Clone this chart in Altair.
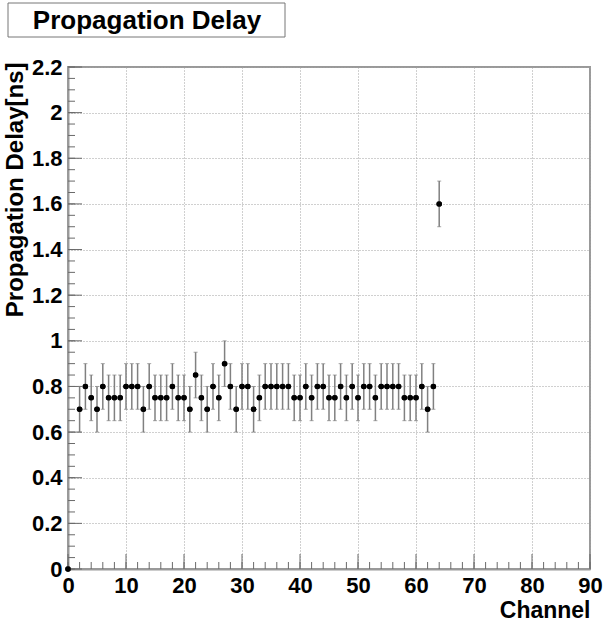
import altair as alt
import pandas as pd

# ---- data ----
channels = [0] + list(range(2, 65))
delays = [0.0,
          0.7, 0.8, 0.75, 0.7, 0.8, 0.75, 0.75, 0.75, 0.8, 0.8,
          0.8, 0.7, 0.8, 0.75, 0.75, 0.75, 0.8, 0.75, 0.75, 0.7,
          0.85, 0.75, 0.7, 0.8, 0.75, 0.9, 0.8, 0.7, 0.8, 0.8,
          0.7, 0.75, 0.8, 0.8, 0.8, 0.8, 0.8, 0.75, 0.75, 0.8,
          0.75, 0.8, 0.8, 0.75, 0.75, 0.8, 0.75, 0.8, 0.75, 0.8,
          0.8, 0.75, 0.8, 0.8, 0.8, 0.8, 0.75, 0.75, 0.75, 0.8,
          0.7, 0.8, 1.6]
errors = [0.0] + [0.1] * 63

x_major = [0, 10, 20, 30, 40, 50, 60, 70, 80, 90]
x_minor = [0, 2, 4, 6, 8, 10, 12, 14, 16, 18, 20, 22, 24, 26, 28, 30, 32, 34, 36, 38,
           40, 42, 44, 46, 48, 50, 52, 54, 56, 58, 60, 62, 64, 66, 68, 70, 72, 74, 76,
           78, 80, 82, 84, 86, 88, 90]
y_major = [0, 0.2, 0.4, 0.6, 0.8, 1, 1.2, 1.4, 1.6, 1.8, 2, 2.2]
y_minor = [0, 0.05, 0.1, 0.15, 0.2, 0.25, 0.3, 0.35, 0.4, 0.45, 0.5, 0.55, 0.6, 0.65,
           0.7, 0.75, 0.8, 0.85, 0.9, 0.95, 1, 1.05, 1.1, 1.15, 1.2, 1.25, 1.3, 1.35,
           1.4, 1.45, 1.5, 1.55, 1.6, 1.65, 1.7, 1.75, 1.8, 1.85, 1.9, 1.95, 2, 2.05,
           2.1, 2.15, 2.2]

title_text = "Propagation Delay"

df = pd.DataFrame({"ch": channels, "d": delays, "e": errors})
df["lo"] = df["d"] - df["e"]
df["hi"] = df["d"] + df["e"]
dfe = df[df["e"] > 0]

W, H = 522, 502
FONT = "Liberation Sans"

xs = alt.Scale(domain=[0, 90], nice=False, zero=False)
ys = alt.Scale(domain=[0, 2.2], nice=False, zero=False)

x_axis = alt.Axis(values=x_major, grid=True, gridColor="#a0a0a0", gridDash=[1, 2],
                  gridWidth=1, tickSize=0, domainColor="#999999", domainWidth=2,
                  labelFont=FONT, labelFontWeight="bold", labelFontSize=22,
                  labelColor="black", labelPadding=6, labelFlush=False,
                  title="Channel", titleFont=FONT, titleFontWeight="bold",
                  titleFontSize=23, titleColor="black", titleAnchor="end",
                  titleAlign="right", titleX=W, titleY=48, titleBaseline="alphabetic")
y_axis = alt.Axis(values=y_major, format="~g", grid=True, gridColor="#a0a0a0",
                  gridDash=[1, 2], gridWidth=1, tickSize=0, domainColor="#999999",
                  domainWidth=2, labelFont=FONT, labelFontWeight="bold",
                  labelFontSize=22, labelColor="black", labelPadding=6,
                  labelFlush=False,
                  title="Propagation Delay[ns]", titleFont=FONT,
                  titleFontWeight="bold", titleFontSize=24, titleColor="black",
                  titleAngle=270, titleAlign="right", titleBaseline="alphabetic",
                  titleX=-46, titleY=-5)


def X(f):
    return alt.X(f, scale=xs, axis=x_axis)


def Y(f):
    return alt.Y(f, scale=ys, axis=y_axis)


points = alt.Chart(df).mark_point(filled=True, shape="circle", size=30,
                                  color="black", opacity=1).encode(
    x=X("ch:Q"), y=Y("d:Q"))

bars = alt.Chart(dfe).mark_rule(color="#808080", strokeWidth=1.5).encode(
    x=X("ch:Q"), y=Y("lo:Q"), y2="hi:Q")
cap_lo = alt.Chart(dfe).mark_tick(color="#808080", orient="horizontal",
                                  size=4, thickness=1).encode(
    x=X("ch:Q"), y=Y("lo:Q"))
cap_hi = alt.Chart(dfe).mark_tick(color="#808080", orient="horizontal",
                                  size=4, thickness=1).encode(
    x=X("ch:Q"), y=Y("hi:Q"))

TC = "#6a6a6a"
xmaj = alt.Chart(pd.DataFrame({"v": x_major})).mark_rule(color=TC, strokeWidth=1).encode(
    x=X("v:Q"), y=alt.value(H), y2=alt.value(H - 15))
xmin = alt.Chart(pd.DataFrame({"v": x_minor})).mark_rule(color=TC, strokeWidth=1).encode(
    x=X("v:Q"), y=alt.value(H), y2=alt.value(H - 7))
ymaj = alt.Chart(pd.DataFrame({"v": y_major})).mark_rule(color=TC, strokeWidth=1).encode(
    y=Y("v:Q"), x=alt.value(0), x2=alt.value(14))
ymin = alt.Chart(pd.DataFrame({"v": y_minor})).mark_rule(color=TC, strokeWidth=1).encode(
    y=Y("v:Q"), x=alt.value(0), x2=alt.value(7))

one = pd.DataFrame({"t": [title_text]})
tbox = alt.Chart(one).mark_rect(fill="white", stroke="#777777", strokeWidth=1).encode(
    x=alt.value(-60), x2=alt.value(217), y=alt.value(-64), y2=alt.value(-30))
ttext = alt.Chart(one).mark_text(font=FONT, fontWeight="bold", fontSize=26,
                                 color="black", align="center",
                                 baseline="middle").encode(
    x=alt.value(79), y=alt.value(-46), text="t:N")

chart = alt.layer(
    points, xmin, xmaj, ymin, ymaj, bars, cap_lo, cap_hi, points, tbox, ttext
).properties(
    width=W, height=H,
    autosize=alt.AutoSizeParams(type="none"),
    padding={"left": 68, "top": 67, "right": 14, "bottom": 54},
    background="white",
).configure_view(stroke="#999999", strokeWidth=2)

chart.save("out.html", embed_options={"renderer": "svg", "actions": False})
